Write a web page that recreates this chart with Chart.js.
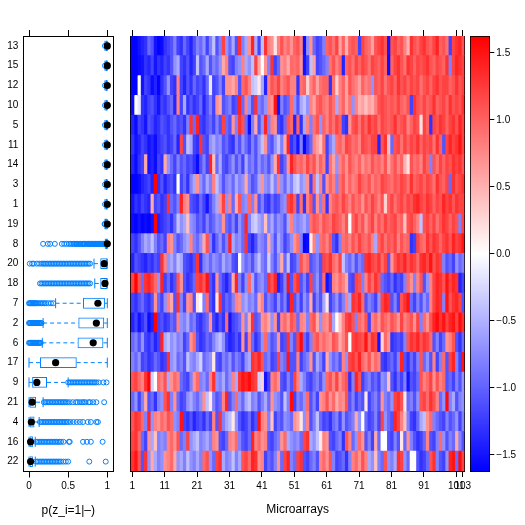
<!DOCTYPE html>
<html>
<head>
<meta charset="utf-8">
<script src="https://cdn.jsdelivr.net/npm/chart.js@4.4.1/dist/chart.umd.min.js"></script>
<style>
html, body { margin: 0; padding: 0; background: #fff; }
#wrap { position: relative; width: 525px; height: 525px; }
#wrap canvas { position: absolute; left: 0; top: 0; }
</style>
</head>
<body>
<div id="wrap">
<canvas id="box" width="525" height="525"></canvas>
<canvas id="heat" width="525" height="525"></canvas>
<canvas id="key" width="525" height="525"></canvas>
</div>
<script>
// rows, top to bottom
const rowLabels = ['13','15','12','10','5','11','14','3','1','19','8','20','18','7','2','6','17','9','21','4','16','22'];

// box plot summaries p(z_i=1|-)
const whiskLo = [0.97,0.97,0.97,0.97,0.97,0.97,0.97,0.97,0.97,0.97,0.975,0.83,0.84,0.34,0.18,0.17,0.0,0.0,0.0,0.0,0.0,0.0];
const boxQ1   = [0.975,0.975,0.975,0.975,0.975,0.975,0.975,0.975,0.975,0.97,0.98,0.91,0.91,0.69,0.63,0.62,0.14,0.04,0.0,0.0,0.0,0.0];
const boxMed  = [1.0,1.0,1.0,1.0,1.0,1.0,1.0,1.0,1.0,1.0,1.0,0.96,0.97,0.88,0.86,0.82,0.34,0.10,0.04,0.03,0.02,0.02];
const boxQ3   = [1.0,1.0,1.0,1.0,1.0,1.0,1.0,1.0,1.0,1.0,1.0,1.0,1.0,0.97,0.96,0.95,0.61,0.23,0.09,0.07,0.05,0.05];
const whiskHi = [1.0,1.0,1.0,1.0,1.0,1.0,1.0,1.0,1.0,1.0,1.0,1.0,1.0,1.0,1.0,1.0,1.0,0.50,0.18,0.13,0.08,0.08];
const outlierLists = [
  [0.97], [0.97], [0.97], [0.97], [0.97], [0.97], [0.97], [0.97], [0.97], [0.965,0.97],
  [0.18,0.24,0.27,0.33,0.42,0.45,0.48,0.51,0.53,0.55,0.57,0.58,0.6,0.61,0.62,0.64,0.65,0.66,0.68,0.69,0.7,0.71,0.72,0.74,0.75,0.76,0.77,0.78,0.79,0.8,0.81,0.82,0.83,0.84,0.85,0.86,0.87,0.88,0.89,0.9,0.91,0.92,0.93,0.94,0.95,0.96,0.97],
  [0.01,0.04,0.06,0.1,0.13,0.16,0.18,0.2,0.22,0.24,0.26,0.28,0.3,0.32,0.34,0.36,0.38,0.4,0.42,0.44,0.46,0.48,0.5,0.52,0.54,0.56,0.58,0.6,0.62,0.64,0.66,0.68,0.7,0.72,0.74,0.76,0.78],
  [0.14,0.16,0.18,0.2,0.22,0.24,0.26,0.28,0.3,0.32,0.34,0.36,0.38,0.4,0.42,0.44,0.46,0.48,0.5,0.52,0.54,0.56,0.58,0.6,0.62,0.64,0.66,0.68,0.7,0.72,0.74,0.76,0.78],
  [0.0,0.01,0.02,0.03,0.04,0.05,0.06,0.07,0.08,0.09,0.1,0.12,0.14,0.16,0.18,0.2,0.22,0.25,0.28,0.31],
  [0.0,0.01,0.02,0.03,0.04,0.05,0.06,0.07,0.08,0.09,0.1,0.11,0.12,0.13,0.14,0.15,0.16],
  [0.0,0.01,0.02,0.03,0.04,0.05,0.06,0.07,0.08,0.09,0.1,0.11,0.12,0.13,0.14,0.15],
  [],
  [0.5,0.52,0.54,0.56,0.58,0.6,0.62,0.64,0.66,0.68,0.7,0.72,0.74,0.76,0.78,0.8,0.82,0.84,0.86,0.89,0.95,0.99],
  [0.19,0.21,0.23,0.25,0.27,0.29,0.31,0.33,0.35,0.37,0.39,0.41,0.43,0.45,0.47,0.49,0.52,0.56,0.6,0.62,0.65,0.68,0.7,0.72,0.76,0.78,0.82,0.86,0.96],
  [0.14,0.16,0.18,0.2,0.22,0.24,0.26,0.28,0.3,0.32,0.34,0.36,0.38,0.4,0.42,0.44,0.46,0.48,0.5,0.53,0.57,0.61,0.65,0.69,0.75,0.79,0.86,0.88],
  [0.09,0.11,0.13,0.15,0.17,0.19,0.21,0.23,0.25,0.27,0.29,0.31,0.33,0.35,0.37,0.39,0.41,0.44,0.51,0.52,0.69,0.74,0.79,0.94],
  [0.09,0.11,0.13,0.15,0.17,0.19,0.21,0.23,0.25,0.27,0.29,0.31,0.33,0.35,0.37,0.39,0.41,0.44,0.47,0.5,0.77,0.98]
];
const boxTicks = [0, 0.5, 1];

// heat map: one array per row, microarrays 1..103
const heat13 = [-1.6,-1.6,-1.5,-1.4,-1.3,-0.95,-1.1,-1.5,-1.6,-1.55, -1.3,-1.2,-1.1,-0.8,-1.2,-1.3,-0.95,-1.2,-1.4,-1.1, -0.8,-0.95,-0.7,-1.2,-0.8,-0.4,-1.1,-0.8,1.2,-0.7, -0.95,-0.55,-1.1,1.3,-0.8,-0.55,0.7,1.4,-0.55,-1.2, -0.4,1.3,0.8,0.7,0.15,0.8,1.1,0.8,0.95,0.7, 1.0,1.1,0.8,-1.55,-0.7,0.7,-0.95,-1.2,-1.1,-0.8, 1.0,1.1,0.9,1.2,0.6,1.0,0.5,1.0,1.1,1.0, -1.2,1.2,1.0,0.9,0.6,1.1,1.2,1.3,1.1,-1.5, 1.1,1.2,1.0,1.1,0.8,0.5,1.3,1.1,1.0,1.2, 1.3,1.1,1.0,1.2,1.4,1.0,1.1,0.9,-1.2,1.2, 1.3,1.4,1.1];
const heat15 = [-1.6,-1.6,-1.55,-1.5,-1.3,-1.4,-1.2,-1.5,-1.3,-1.4, -1.2,-1.3,-1.1,-0.7,-0.55,-1.2,-1.3,-1.1,-1.4,-1.2, -0.4,-1.1,-0.95,-0.55,-1.1,-0.8,-0.95,-0.7,0.55,0.8, -1.1,-1.2,-0.8,-0.7,0.8,-0.55,-0.7,-0.4,1.2,0.55, 0.0,0.7,-0.8,1.3,-1.2,-0.95,0.7,0.8,0.55,0.95, 0.9,1.0,0.7,-1.5,-1.2,-0.4,0.6,-1.2,-1.1,-0.95, -0.8,0.9,1.1,0.8,1.0,-1.4,1.0,1.1,0.9,1.2, 1.0,1.2,1.1,0.9,1.2,1.1,1.0,1.2,1.0,-1.55, 1.0,1.2,1.3,1.1,0.9,1.3,1.2,1.0,1.2,1.1, 1.2,1.3,1.1,1.0,1.2,1.1,1.0,1.3,-0.8,1.2, 1.4,1.3,1.2];
const heat12 = [-1.6,-1.6,0.0,-1.5,-1.2,-1.3,-1.55,-1.4,-1.6,-1.3, -1.1,-0.7,-1.2,-1.3,0.8,-1.2,-1.4,-1.1,-1.3,-0.95, -1.2,-1.1,-1.3,-0.95,-0.15,-1.2,-1.1,-0.8,-1.2,0.7, 0.7,0.55,0.8,-1.1,0.95,1.1,0.8,-0.4,-0.3,0.15, -0.55,-1.4,0.8,1.1,0.95,1.2,0.8,0.95,1.1,0.8, 0.8,-1.3,0.9,1.0,0.3,0.8,1.0,0.6,0.9,1.0, 1.0,-1.3,0.9,0.3,0.8,1.0,0.6,1.1,0.9,0.8, 0.6,1.0,0.8,0.9,-0.7,1.1,1.0,1.2,0.9,1.1, 1.2,1.0,1.3,1.1,1.2,1.0,1.2,1.1,1.2,0.9, 1.1,1.2,1.0,1.2,1.3,1.1,1.2,1.2,1.0,1.1, 1.3,1.1,1.2];
const heat10 = [-1.55,0.0,-0.15,-1.3,-1.4,-1.2,-1.1,-1.3,-1.5,-1.2, -1.3,-1.1,-0.95,-1.4,0.8,-1.2,-0.55,-1.3,-1.1,-1.3, -1.2,-0.95,-1.4,-1.1,-0.8,-1.2,0.7,0.55,-1.1,-0.95, -0.8,-1.2,-1.1,1.4,-0.95,0.8,-0.7,-1.1,1.3,-0.8, -0.95,-0.7,0.8,0.7,1.5,-1.5,-0.8,-1.1,-0.95,0.95, -0.7,-1.1,-0.55,-0.4,-0.7,0.8,0.6,1.0,1.1,0.9, 0.8,1.1,0.9,-0.55,0.8,1.0,0.6,0.9,-0.7,0.8, 0.5,0.6,0.4,0.6,0.5,0.8,1.1,1.2,1.1,1.0, 1.1,1.0,1.2,1.0,0.9,1.1,-1.2,1.3,1.1,1.0, 1.2,1.0,1.1,1.3,1.0,1.1,1.2,1.0,1.3,1.1, 1.2,1.1,1.3];
const heat5 = [-1.4,-1.55,-1.2,-1.3,-1.5,-1.1,-1.2,-1.4,-1.3,-1.1, -1.2,-1.3,-1.1,-0.95,-1.2,-1.1,-1.3,-0.8,1.3,-0.95, 1.4,-1.2,-1.3,-1.1,-0.95,-1.2,-0.8,-1.1,1.2,-0.95, -1.1,0.7,-0.8,1.3,1.1,-0.95,-1.55,-0.8,0.55,-1.1, -0.7,1.4,-0.8,0.8,0.7,-1.2,-1.3,-0.95,1.1,0.95, -1.4,1.0,-1.3,-0.55,0.8,-0.8,0.9,1.1,-0.7,1.0, 0.8,1.1,0.9,1.2,1.0,-1.2,-1.3,0.7,1.1,1.2, 0.9,1.2,1.0,1.3,1.1,1.2,0.9,1.2,1.1,1.0, 1.1,1.3,1.0,1.1,1.2,0.8,1.0,1.2,1.1,0.2, 1.2,1.0,-1.3,1.2,1.1,1.3,1.2,1.0,1.2,1.3, 1.1,1.4,1.2];
const heat11 = [-1.3,-1.5,-1.4,-1.2,-1.3,-1.5,-1.4,-1.55,-1.3,-1.2, -1.1,-1.3,-1.2,-0.95,-1.4,1.2,-1.1,-0.4,-0.55,-1.2, -1.3,1.3,-1.1,-1.2,-0.7,-0.55,-0.8,-0.7,-1.1,-0.95, -1.2,-1.3,-0.8,-1.1,-0.7,-0.95,-1.2,-0.8,-1.1,-0.7, -0.4,0.7,-0.95,-1.1,-0.7,-0.4,-0.8,0.55,1.4,-1.3, -1.1,-1.5,-0.8,-1.6,-1.2,-0.95,0.8,0.6,0.4,0.9, -1.2,-0.8,-0.55,0.9,1.0,0.8,1.2,1.1,0.9,1.0, 0.8,1.2,1.1,1.0,1.2,1.2,-1.4,1.1,1.3,0.4, -0.95,1.1,1.2,0.9,1.2,1.0,1.2,1.1,1.3,1.0, 1.2,1.1,1.2,0.9,1.3,1.0,-1.1,1.2,1.4,1.2, 1.3,1.5,1.2];
const heat14 = [-1.4,-1.55,-1.3,-1.2,0.55,-1.5,-1.4,-1.55,-1.2,-1.3, 0.55,-0.7,-0.95,-1.2,-0.8,-1.1,-0.95,-1.2,-1.1,-1.3, -1.55,-1.1,-0.8,-1.2,1.4,0.4,-0.95,-0.55,-1.1,-1.2, -0.95,-0.7,-1.1,-0.8,-1.2,-0.55,-0.95,-0.8,-1.1,-0.7, -0.95,-0.8,-1.1,-0.7,0.55,1.3,-1.2,-0.95,0.7,1.4, 1.1,0.9,1.0,0.8,1.2,0.9,1.1,0.7,1.0,0.8, -1.2,0.9,0.6,-0.7,0.8,1.0,0.7,1.1,0.9,0.8, 1.0,0.7,0.9,0.8,1.1,0.9,1.0,0.8,1.1,0.6, 0.9,1.1,0.8,1.0,0.5,0.2,1.1,0.9,1.0,0.8, 1.2,1.0,-0.8,1.1,0.9,1.2,1.0,1.2,1.1,1.3, 1.2,1.3,1.1];
const heat3 = [-1.6,-1.6,-1.55,-1.4,-1.3,-1.2,-1.4,1.6,-1.3,-1.1, -1.4,-1.2,-1.1,-1.3,0.0,-1.2,-0.95,-1.3,-0.8,-0.55, 0.7,-0.7,-0.95,-0.55,-0.8,0.8,-0.4,-0.7,-1.1,-0.8, -0.7,-0.95,-0.55,-0.8,-0.7,0.55,-0.8,-1.1,-0.95,-0.55, 0.7,-0.7,-0.8,-0.4,-0.8,0.8,-0.7,-0.95,-0.55,-0.8, -0.4,-0.3,-0.7,-0.55,0.7,-1.2,0.9,-0.4,0.8,-1.1, 0.7,1.0,0.8,-0.8,0.9,1.1,0.7,1.0,0.8,0.9, 1.2,1.0,0.9,1.1,0.8,1.0,0.9,1.2,1.1,1.0, 0.9,1.1,1.0,1.2,1.1,0.9,1.3,1.0,1.1,1.2, 1.0,1.2,1.1,0.9,1.3,1.1,1.0,1.2,-0.95,1.3, 1.1,1.2,1.3];
const heat1 = [-1.5,-1.3,-1.4,-1.2,-1.3,-1.4,0.55,-1.2,-1.1,-1.3, -1.2,1.3,-0.95,-1.1,-0.8,1.4,0.8,0.7,-1.1,-1.2, -1.3,-0.95,-1.2,-1.5,-1.1,-0.8,-0.55,0.7,1.2,-0.7, 0.8,-0.95,0.55,1.1,-0.8,-0.7,0.95,-0.8,0.7,-1.1, -0.8,-1.2,-1.3,-0.95,-1.2,-1.1,-0.8,-0.7,1.2,1.3, 1.0,-1.2,0.9,-1.3,0.8,1.1,-1.1,0.7,-0.8,0.9, -1.3,0.8,1.0,1.1,0.9,1.2,1.0,0.8,1.1,0.9, 1.0,0.7,1.1,0.9,1.2,1.0,0.8,1.1,0.3,1.0, 1.2,0.9,1.1,1.2,1.0,1.2,1.1,1.3,1.4,1.2, 1.1,1.3,1.2,1.0,1.2,1.1,1.4,1.2,1.3,1.1, 1.3,1.2,1.2];
const heat19 = [-1.55,-1.6,-1.5,-1.6,-1.55,-1.6,-1.5,1.6,-1.4,-1.3, -1.2,-1.1,-1.3,-0.95,-0.4,-0.7,-0.55,0.4,-0.7,-0.8, -1.1,-0.95,-1.2,-0.8,-1.1,-0.95,-0.7,-0.8,0.7,-0.95, -1.1,-0.8,-1.2,-0.7,-0.95,1.4,-0.8,-0.4,-0.3,-0.55, -0.7,0.4,-0.8,-0.55,-0.95,-0.7,-0.8,-1.1,-0.55,0.8, -0.7,-0.8,-0.7,-0.55,-0.8,0.9,1.1,1.0,0.8,1.1, 1.0,0.9,1.2,1.1,1.0,0.8,1.1,0.0,1.0,1.2, 0.9,1.1,0.7,1.0,1.2,0.8,1.1,0.9,1.2,1.0, 1.1,1.2,0.9,1.0,0.4,1.1,1.2,1.0,0.8,-0.4, 1.1,1.2,1.0,1.2,0.9,1.1,1.3,1.2,1.0,1.2, 1.1,-0.8,1.2];
const heat8 = [-1.2,-1.3,-1.1,-0.8,-0.55,-0.7,-0.4,-0.8,-1.1,-0.95, -1.2,0.8,0.7,-0.8,-1.1,-0.95,-0.7,-0.55,0.8,-0.8, -0.95,-0.7,0.55,1.1,-0.8,-1.3,-0.95,-0.7,-1.1,-0.8, 1.4,-0.55,-0.8,-0.7,-0.95,1.3,-1.2,-1.4,-1.1,-0.7, -0.8,-0.95,0.55,-0.7,-1.1,-0.55,-0.8,-1.2,-0.95,-0.7, 0.7,0.9,-0.8,-1.6,-1.55,0.1,0.8,-0.7,0.9,1.0, 0.8,1.1,-1.1,-1.3,-0.8,0.9,1.0,0.8,1.1,0.9, 1.2,1.0,0.9,1.1,0.8,-0.55,1.0,1.2,0.9,1.1, 1.0,1.2,0.8,1.1,0.9,1.0,-1.3,-1.2,1.2,1.0, 0.9,1.3,1.1,1.3,1.2,1.0,1.2,1.3,1.1,1.4, 1.2,1.3,1.5];
const heat20 = [-1.4,-1.1,-1.2,-1.3,-1.4,-1.2,-1.3,-1.1,-1.2,1.3, 0.8,-0.7,-0.55,-0.8,-0.4,-0.55,-1.1,-1.2,-1.3,-1.1, 1.3,-1.3,-0.8,-0.7,-0.95,-0.7,-0.8,-0.95,-0.55,-0.8, -0.7,-1.1,-1.2,0.0,-0.7,-0.95,-0.8,-1.1,-0.7,-0.4, -0.8,-0.95,-0.3,-0.8,-1.1,-0.7,0.55,-0.95,-0.4,-1.2, -1.1,-0.8,1.1,0.8,0.95,-1.1,-0.95,-0.8,-1.1,1.2, 1.1,1.3,0.95,0.8,1.2,-0.4,-0.8,-0.95,-0.7,-1.1, -0.8,-0.95,1.3,1.4,1.2,1.1,1.3,0.95,1.2,-1.1, 0.7,1.1,1.3,1.2,1.4,1.1,1.3,1.2,0.95,1.3, 1.4,1.2,1.5,1.1,1.3,1.2,-0.8,-1.1,-0.95,-1.2, -0.7,-0.95,-0.8];
const heat18 = [1.2,1.6,1.1,-0.95,1.3,1.4,1.2,0.95,-0.7,1.4, -1.2,-0.95,-1.3,-1.1,1.1,0.7,-1.1,-1.3,-1.2,-0.95, 1.2,1.3,1.1,1.5,-1.1,-1.3,0.7,-0.95,-1.2,-1.4, -1.1,0.55,1.4,-0.8,-1.2,-0.7,0.95,-0.55,-1.1,-0.8, -0.7,-0.95,1.3,1.1,1.4,-1.4,-1.2,-0.8,1.5,-1.1, 1.1,1.3,-1.1,-0.8,-1.2,1.2,-0.95,-0.7,-1.1,0.95, -1.5,-1.3,0.8,0.7,0.95,0.8,0.55,-1.1,-1.2,1.2, 1.1,-0.8,0.8,1.2,0.95,1.3,1.1,-0.95,-1.1,-1.2, -0.95,-1.3,-1.1,-1.2,-0.8,0.95,0.7,-0.8,0.8,1.1, -1.1,-0.7,0.8,1.2,1.4,1.3,1.1,1.5,1.2,1.4, 1.3,-1.4,-1.2];
const heat7 = [-1.2,-1.3,-1.1,-0.95,-1.2,-1.3,-1.1,0.7,-0.95,-1.2, -0.7,0.8,0.55,-1.1,1.3,-0.8,-1.2,0.7,0.8,-1.1, 0.15,0.0,-0.8,0.95,-1.1,-1.3,0.15,1.3,-1.2,-0.95, -1.1,-0.8,0.8,0.7,-0.7,-0.55,-0.8,-0.7,-0.95,0.55, 0.8,-1.1,-0.8,-0.95,-1.2,-0.7,-1.1,-0.8,-1.3,1.4, -1.1,-0.8,-1.2,-0.7,-0.95,0.55,-1.2,-0.8,-1.1,-0.55, 0.15,-1.2,-0.95,-0.7,-1.1,-0.8,0.8,-0.55,1.3,1.2, 1.4,0.95,-1.1,-0.8,-0.95,-1.2,-0.7,1.2,1.4,1.3, -1.1,-0.8,-1.2,1.1,1.3,1.5,-0.95,-1.2,-0.8,-1.1, -0.7,-0.95,0.8,1.2,1.4,1.3,-0.8,1.5,1.1,1.3, 1.4,1.2,-1.1];
const heat2 = [-1.4,-1.2,-1.5,-1.3,-1.1,-1.55,-1.4,1.6,-1.2,-1.1, -1.3,-1.2,-0.95,-1.1,0.8,-0.7,-0.8,-0.55,-0.95,-0.8, -1.2,-1.3,-1.1,-0.95,0.7,-1.2,-1.4,-1.1,-1.3,0.95, -1.5,-1.2,-1.1,-0.95,0.7,-0.8,0.55,1.3,-1.1,-0.95, 0.7,0.8,0.55,-0.7,0.7,-1.2,0.8,0.95,0.7,1.1, 0.95,-0.95,0.8,0.7,-0.8,0.95,1.1,0.55,-0.7,0.8, 0.7,1.1,-0.55,0.0,0.4,0.8,1.2,1.3,1.1,-0.8, 0.95,0.8,1.1,-1.2,0.8,0.95,0.7,1.1,0.95,0.8, 1.1,0.95,0.7,1.2,0.8,0.95,1.1,0.7,1.2,-0.8, 0.95,0.7,1.1,1.4,1.55,1.3,1.5,1.2,1.4,1.5, 1.2,1.55,1.3];
const heat6 = [-0.95,-0.8,-1.1,-0.7,-1.2,-1.3,-1.1,-1.4,-1.2,1.4, -0.55,-0.4,-0.7,-0.55,-0.8,-0.7,-1.2,-0.95,0.7,0.95, -1.1,-1.3,-1.2,-0.95,-1.1,-0.8,-0.55,-0.4,-0.7,-1.2, -1.4,-1.3,-1.1,-1.3,0.7,-1.2,0.8,-0.95,-1.3,-1.1, -0.7,0.95,-0.8,-1.1,-0.95,0.7,-1.2,-1.1,1.3,-0.8, -1.1,1.2,1.55,-0.95,-1.2,-0.8,0.95,1.1,0.8,0.95, 0.8,0.7,1.1,0.95,0.55,0.8,1.1,0.0,1.2,1.3, 1.2,1.1,1.5,0.95,1.3,1.2,-1.5,0.3,0.95,0.7, -1.3,-1.2,-1.1,-1.2,-0.8,1.1,1.3,1.2,1.4,1.1, 1.3,1.2,0.95,-1.1,-0.8,-1.2,-0.95,0.7,0.8,1.1, -1.1,-1.3,-0.95];
const heat17 = [-0.8,-0.95,-0.7,-1.2,-1.1,-1.3,-1.2,-0.95,-1.1,-1.3, -1.2,1.3,-0.7,-0.55,-0.95,-0.8,-1.1,-0.4,-0.7,-0.8, -0.55,-0.3,-0.95,-0.8,-0.7,0.15,-1.1,-1.2,-0.8,-0.95, -0.7,-1.1,-0.8,-0.95,-1.2,-0.7,-0.55,1.3,1.2,1.4, 1.1,-0.95,-0.8,-1.2,-1.1,1.2,-0.8,-0.95,1.5,-1.1, -1.1,0.8,-1.2,-0.95,-0.8,0.7,-1.1,-0.55,-0.8,-1.2, 0.55,-0.7,-0.95,-0.8,-1.1,0.8,-0.7,1.2,1.3,1.1, 1.4,0.95,0.8,1.1,0.7,0.95,0.8,-1.2,-1.3,-1.1, -0.95,-1.2,-0.8,1.4,-1.1,-1.3,-0.95,-1.2,-0.8,1.1, -0.95,-0.7,-1.1,0.8,-1.2,-0.8,0.95,-1.1,1.2,1.4, -0.8,-1.2,1.5];
const heat9 = [1.1,1.2,0.95,0.8,1.3,1.6,-0.3,0.0,0.95,0.8, 1.1,-0.55,0.7,0.95,0.8,-0.95,-1.1,-1.2,-0.8,0.7, 0.95,-0.8,-0.7,-0.95,0.8,1.3,-0.7,-0.8,-0.55,-0.95, -0.7,0.8,-0.55,1.3,1.5,1.4,1.55,1.3,1.2,-0.3, 0.3,-1.5,-1.2,0.8,0.95,0.7,-1.1,-1.2,-0.8,-1.1, 1.2,0.8,-0.55,-0.8,-1.1,-1.2,-0.95,-0.8,-1.1,-0.7, 0.95,1.1,0.8,1.2,0.7,0.95,1.1,-1.3,-0.8,1.4, 1.1,-1.2,-0.95,-0.8,-1.1,-0.95,-1.2,-0.7,-0.8,0.4, -1.1,-1.3,-0.95,-1.2,-0.8,-1.5,-1.1,-1.2,-0.95,1.1, 0.8,0.95,1.2,0.7,1.1,0.8,0.95,-1.1,-0.95,-1.2, -0.8,-1.1,-0.7];
const heat21 = [-0.95,-0.7,-1.2,-0.8,0.55,-1.1,-0.95,-1.3,-0.8,-0.7, 1.1,1.3,-0.8,0.7,-0.95,-1.2,-1.1,-0.7,-0.55,-0.8, -0.95,-0.7,0.7,-0.4,0.15,-0.8,-1.1,-0.95,0.8,1.4, -1.1,-0.8,0.95,-0.7,-0.95,-0.55,-0.4,-0.8,-0.7,-1.1, -0.8,-0.55,-0.95,0.7,-0.7,-0.8,-1.1,-0.4,-0.8,1.55, -1.2,-0.8,-0.95,-0.7,0.95,-1.1,-0.8,-1.2,0.7,0.8, 1.1,0.7,0.95,0.55,0.8,0.7,1.1,-1.1,-0.8,-1.2, -0.95,-1.1,0.15,-1.2,-0.95,-0.8,-1.1,0.7,-0.8,-0.95, -0.7,1.2,1.3,1.1,0.15,-0.95,-0.8,-1.1,-0.7,1.1, 1.2,0.95,1.3,1.1,0.8,-0.95,-0.7,1.55,-0.8,-0.55, -1.1,-0.8,-0.7];
const heat4 = [1.1,1.3,1.2,0.95,-0.8,1.4,-0.7,0.8,0.7,0.95, 0.8,1.1,0.95,-0.7,-0.8,1.5,-1.2,-1.3,-1.1,-1.4, -1.2,-1.1,-1.3,-0.95,-1.2,0.8,-1.1,1.3,-0.8,-0.55, -0.4,0.15,-0.7,-1.1,-1.3,-1.2,-0.95,-1.3,-1.1,1.5, 0.8,0.7,-0.8,0.4,-1.2,-0.95,-1.1,-0.7,-0.8,-0.95, 0.7,0.55,0.15,-0.7,0.8,-1.1,-0.8,-0.4,-0.95,-1.2, -1.1,-1.3,-0.95,-0.8,-1.2,-0.7,-1.1,-0.95,-0.8,0.55, -0.7,0.0,-0.95,-1.2,-1.1,-0.8,-1.2,1.2,-0.7,-0.95, -1.1,1.4,1.2,0.8,0.4,-0.8,-1.2,-1.3,-0.95,-0.55, -0.4,0.7,0.95,-0.8,-0.95,-1.1,-1.2,-0.8,-1.1,-0.95, -0.7,-1.2,-0.8];
const heat16 = [1.2,1.3,0.95,-0.95,-1.2,0.7,-0.55,0.4,-0.8,-0.7, -0.8,0.8,0.95,0.7,1.1,-0.95,-0.8,1.2,-0.7,-0.55, -0.4,-0.8,-0.7,-0.55,-0.8,0.8,0.7,-1.1,-1.2,-0.95, 0.8,0.7,0.95,-0.8,-1.1,-1.2,-0.95,1.4,0.8,0.95, 0.7,0.8,-1.1,-1.2,-0.95,-0.8,0.7,0.95,-0.55,-0.7, -0.8,-0.7,-0.95,1.2,1.3,-0.55,-0.7,-0.4,0.15,0.8, 0.7,-1.1,-1.2,-0.95,-0.8,-1.3,1.1,0.8,-0.95,-0.7, 0.95,0.7,-1.1,-0.8,-1.2,0.55,-0.95,0.0,0.0,-1.1, -1.2,-0.8,-1.1,0.15,-0.95,0.7,-0.8,-1.1,-1.3,-1.2, -0.95,0.8,-1.1,-1.2,-0.8,0.95,-0.7,-1.1,-0.8,-0.95, 0.55,-0.8,-1.1];
const heat22 = [1.3,1.5,1.1,-1.1,1.3,-0.7,0.55,-0.55,-0.8,-0.7, 0.7,0.8,0.95,0.55,-0.7,-0.55,-0.8,-0.4,-0.7,-0.8, -0.55,-0.8,0.95,1.1,-0.7,-0.95,1.2,1.3,-0.55,-0.8, -0.7,-0.4,-0.8,-0.55,1.1,1.2,0.95,1.4,1.3,0.7, 0.8,-1.2,-0.95,-1.1,-0.8,0.7,-0.95,1.2,1.4,-0.8, -0.95,1.2,1.3,-1.1,-1.2,-0.95,-0.8,-1.1,0.8,0.95, 0.7,1.1,-0.8,-1.2,-1.1,-0.95,-1.3,-0.8,0.8,0.95, 0.7,1.1,0.8,-0.55,-0.7,0.4,-0.8,-0.95,1.1,-0.7, -0.8,-0.55,1.3,1.2,-0.7,-0.95,0.0,0.0,-1.1,-1.3, -1.2,-0.95,1.1,1.3,-0.8,-1.1,-1.2,-0.7,1.4,1.5, -0.95,1.55,1.2];

const heatRows = [heat13, heat15, heat12, heat10, heat5, heat11, heat14, heat3, heat1, heat19, heat8,
                  heat20, heat18, heat7, heat2, heat6, heat17, heat9, heat21, heat4, heat16, heat22];
const microarrays = heat13.map((v, i) => i + 1);
const heatTicks = [1, 11, 21, 31, 41, 51, 61, 71, 81, 91, 101, 103];
const keyMin = -1.62;
const keyMax = 1.62;
const keyTicks = [-1.5, -1.0, -0.5, 0.0, 0.5, 1.0, 1.5];

const BLUE = '#0080ff';
Chart.defaults.font.family = '"Liberation Sans", Arial, Helvetica, sans-serif';
Chart.defaults.font.size = 10;
Chart.defaults.color = '#000';

function heatColor(v) {
    let t = Math.max(-1, Math.min(1, v / keyMax));
    if (t < 0) {
        let k = Math.round(255 * (1 + t));
        return 'rgb(' + k + ',' + k + ',255)';
    }
    let k = Math.round(255 * (1 - t));
    return 'rgb(255,' + k + ',' + k + ')';
}

function setTicks(list) {
    return s => { s.ticks = list.map(v => ({value: v})); };
}

function frameAxis(pos, size) {
    return {
        type: 'linear', position: pos, min: 0, max: 1,
        afterFit: s => { if (pos === 'left' || pos === 'right') s.width = size; else s.height = size; },
        ticks: {display: false},
        grid: {display: false, drawTicks: false},
        border: {display: true, color: '#000', width: 1}
    };
}

function tickGrid(len) {
    return {display: true, drawOnChartArea: false, drawTicks: true, tickLength: len, tickColor: '#000', color: '#000', lineWidth: 1};
}

// ---------- left panel: box plots ----------
let whiskerPts = [];
let staplePts = [];
let medianPts = [];
let outlierPts = [];
rowLabels.forEach((lab, i) => {
    whiskerPts.push({x: whiskLo[i], y: lab}, {x: boxQ1[i], y: lab}, {x: null, y: lab},
                    {x: boxQ3[i], y: lab}, {x: whiskHi[i], y: lab}, {x: null, y: lab});
    staplePts.push({x: whiskLo[i], y: lab}, {x: whiskHi[i], y: lab});
    medianPts.push({x: boxMed[i], y: lab});
    outlierLists[i].forEach(v => outlierPts.push({x: v, y: lab}));
});

const boxMin = -0.0728;
const boxMax = 1.0766;

new Chart(document.getElementById('box'), {
    type: 'bar',
    data: {
        labels: rowLabels,
        datasets: [
            {type: 'scatter', data: medianPts, pointStyle: 'circle', radius: 3.6, backgroundColor: '#000', borderColor: '#000', borderWidth: 0, order: 0},
            {type: 'scatter', data: outlierPts, pointStyle: 'circle', radius: 2.5, backgroundColor: 'rgba(0,0,0,0)', borderColor: BLUE, borderWidth: 1, order: 1},
            {type: 'scatter', data: staplePts, pointStyle: 'line', rotation: 90, radius: 5, borderColor: BLUE, borderWidth: 1, order: 2},
            {type: 'line', data: whiskerPts, borderColor: BLUE, borderWidth: 1, borderDash: [4, 3], pointRadius: 0, spanGaps: false, fill: false, order: 3},
            {type: 'bar', data: rowLabels.map((l, i) => [boxQ1[i], boxQ3[i]]), backgroundColor: 'rgba(0,0,0,0)', borderColor: BLUE, borderWidth: 1, borderSkipped: false, barPercentage: 0.55, categoryPercentage: 1, order: 4}
        ]
    },
    options: {
        indexAxis: 'y',
        responsive: false,
        animation: false,
        layout: {padding: {left: 0, right: 525 - 113.3, top: 30, bottom: 3.5}},
        plugins: {legend: {display: false}, tooltip: {enabled: false}},
        scales: {
            x: {
                type: 'linear', position: 'bottom', min: boxMin, max: boxMax,
                afterBuildTicks: setTicks(boxTicks),
                afterFit: s => { s.height = 50; },
                ticks: {autoSkip: false, maxRotation: 0, padding: 3, callback: v => String(v)},
                grid: tickGrid(6),
                border: {display: true, color: '#000', width: 1},
                title: {display: true, text: 'p(z_i=1|\u2013)', font: {size: 12}, color: '#000', padding: {top: 0, bottom: 4}}
            },
            xt: {
                type: 'linear', position: 'top', min: boxMin, max: boxMax,
                afterBuildTicks: setTicks(boxTicks),
                afterFit: s => { s.height = 6; },
                ticks: {display: false},
                grid: tickGrid(6),
                border: {display: true, color: '#000', width: 1}
            },
            y: {
                type: 'category', position: 'left',
                afterFit: s => { s.width = 23.3; },
                ticks: {padding: 5, autoSkip: false},
                grid: {display: false, drawTicks: false},
                border: {display: true, color: '#000', width: 1}
            },
            yr: frameAxis('right', 0)
        }
    }
});

// ---------- middle panel: heat map ----------
const heatSets = microarrays.map((m, c) => ({
    data: heatRows.map(() => [m - 0.5, m + 0.5]),
    backgroundColor: heatRows.map(row => heatColor(row[c])),
    borderWidth: 0,
    barPercentage: 1,
    categoryPercentage: 1,
    inflateAmount: 0.4,
    grouped: false
}));

new Chart(document.getElementById('heat'), {
    type: 'bar',
    data: {labels: rowLabels, datasets: heatSets},
    options: {
        indexAxis: 'y',
        responsive: false,
        animation: false,
        layout: {padding: {left: 130.7, right: 525 - 464.4, top: 30, bottom: 4}},
        plugins: {legend: {display: false}, tooltip: {enabled: false}},
        scales: {
            x: {
                type: 'linear', position: 'bottom', min: 0.5, max: 103.5,
                afterBuildTicks: setTicks(heatTicks),
                afterFit: s => { s.height = 50; },
                ticks: {autoSkip: false, maxRotation: 0, padding: 3},
                grid: tickGrid(6),
                border: {display: true, color: '#000', width: 1},
                title: {display: true, text: 'Microarrays', font: {size: 12}, color: '#000', padding: {top: 0, bottom: 4}}
            },
            xt: {
                type: 'linear', position: 'top', min: 0.5, max: 103.5,
                afterBuildTicks: setTicks(heatTicks),
                afterFit: s => { s.height = 6; },
                ticks: {display: false},
                grid: tickGrid(6),
                border: {display: true, color: '#000', width: 1}
            },
            y: {
                type: 'category', position: 'left',
                afterFit: s => { s.width = 0; },
                ticks: {display: false},
                grid: {display: false, drawTicks: false},
                border: {display: true, color: '#000', width: 1}
            },
            yr: frameAxis('right', 0)
        }
    }
});

// ---------- colour key ----------
new Chart(document.getElementById('key'), {
    type: 'bar',
    data: {
        labels: ['key'],
        datasets: [{
            data: [[keyMin, keyMax]],
            backgroundColor: ctx => {
                const area = ctx.chart.chartArea;
                if (!area) return '#fff';
                const g = ctx.chart.ctx.createLinearGradient(0, area.bottom, 0, area.top);
                g.addColorStop(0, '#0000ff');
                g.addColorStop(0.5, '#ffffff');
                g.addColorStop(1, '#ff0000');
                return g;
            },
            borderWidth: 0,
            barPercentage: 1,
            categoryPercentage: 1
        }]
    },
    options: {
        responsive: false,
        animation: false,
        layout: {padding: {left: 470.7, right: 0.7, top: 36.7, bottom: 54}},
        plugins: {legend: {display: false}, tooltip: {enabled: false}},
        scales: {
            x: {
                type: 'category', position: 'bottom',
                afterFit: s => { s.height = 0; },
                ticks: {display: false},
                grid: {display: false, drawTicks: false},
                border: {display: true, color: '#000', width: 1}
            },
            xt: frameAxis('top', 0),
            y: {
                type: 'linear', position: 'right', min: keyMin, max: keyMax,
                afterBuildTicks: setTicks(keyTicks),
                afterFit: s => { s.width = 35; },
                ticks: {padding: 2, callback: v => (v < 0 ? '\u2212' : '') + Math.abs(v).toFixed(1)},
                grid: tickGrid(5),
                border: {display: true, color: '#000', width: 1},
            },
            yl: frameAxis('left', 0)
        }
    }
});
</script>
</body>
</html>
